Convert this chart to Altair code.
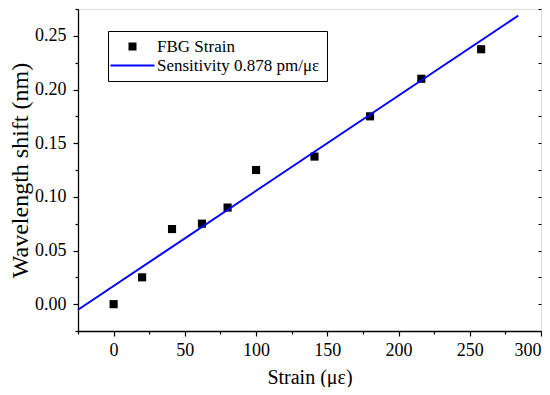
import altair as alt
import pandas as pd

strain = [0, 20, 41, 62, 80, 100, 141, 180, 216, 258]
shift = [0.0, 0.025, 0.070, 0.075, 0.090, 0.125, 0.1375, 0.175, 0.210, 0.2375]
fit_x = [-25, 284]
fit_y = [-0.0052, 0.2688]
series = ["FBG Strain", "Sensitivity 0.878 pm/\u03bc\u03b5"]
x_major = [0, 50, 100, 150, 200, 250, 300]
x_minor = [-25, 25, 75, 125, 175, 225, 275]
y_major = [0.0, 0.05, 0.10, 0.15, 0.20, 0.25]
y_minor = [-0.025, 0.025, 0.075, 0.125, 0.175, 0.225, 0.275]

pts = pd.DataFrame({"x": strain, "y": shift, "s": series[0]})
fit = pd.DataFrame({"x": fit_x, "y": fit_y, "s": series[1]})

FONT = "Liberation Serif"
xs = alt.Scale(domain=[-25, 300], nice=False, zero=False)
ys = alt.Scale(domain=[-0.025, 0.275], nice=False, zero=False)
color = alt.Color("s:N", scale=alt.Scale(domain=series, range=["#000000", "#0000ff"]),
                  legend=alt.Legend(title=None, orient="none", legendX=30, legendY=22,
                                    strokeColor="#000000", fillColor="#ffffff", padding=7,
                                    labelFont=FONT, labelFontSize=17, labelColor="#000000",
                                    labelLimit=400,
                                    symbolSize=64, symbolOffset=9, labelOffset=16, rowPadding=1,
                                    symbolStrokeWidth=0))
shape = alt.Shape("s:N", scale=alt.Scale(domain=series,
                                         range=["square", "M-5.5,-0.25H5.5V0.25H-5.5Z"]))

common_ax = dict(domainColor="#000000", tickColor="#000000", labelColor="#000000",
                 titleColor="#000000", labelFont=FONT, titleFont=FONT,
                 domainWidth=1.3, tickWidth=1.2)

points = alt.Chart(pts).mark_point(filled=True, size=66, opacity=1).encode(
    x=alt.X("x:Q", scale=xs, axis=alt.Axis(values=x_major, tickSize=5, labelFontSize=18,
                                           title="Strain (\u03bc\u03b5)", titleFontSize=20,
                                           titleFontWeight="normal", labelPadding=5,
                                           titlePadding=8, grid=False, orient="bottom",
                                           **common_ax)),
    y=alt.Y("y:Q", scale=ys, axis=alt.Axis(values=y_major, format=".2f", tickSize=5,
                                           labelFontSize=18, title="Wavelength shift (nm)",
                                           titleFontSize=24, titleFontWeight="normal",
                                           labelPadding=7, titlePadding=2, grid=False,
                                           orient="left", **common_ax)),
    color=color,
    shape=shape,
)

line = alt.Chart(fit).mark_line(strokeWidth=2, color="#0000ff").encode(
    x=alt.X("x:Q", scale=xs, axis=alt.Axis(values=x_minor, tickSize=3, labels=False,
                                           title=None, grid=False, domain=False,
                                           orient="bottom", **common_ax)),
    y=alt.Y("y:Q", scale=ys, axis=alt.Axis(values=y_minor, tickSize=3, labels=False,
                                           title=None, grid=False, domain=False,
                                           orient="left", **common_ax)),
    color=alt.Color("s:N", scale=alt.Scale(domain=series, range=["#000000", "#0000ff"]),
                    legend=None),
)

right = alt.Chart(pts).mark_point(opacity=0).encode(
    x=alt.X("x:Q", scale=xs, axis=None),
    y=alt.Y("y:Q", scale=ys, axis=alt.Axis(values=y_major + y_minor, tickSize=3,
                                           labels=False, title=None, grid=False,
                                           domain=False, orient="right", offset=-3,
                                           tickColor="#000000", tickWidth=1)),
)

chart = alt.layer(points, line, right).resolve_axis(x="independent", y="independent").properties(
    width=534, height=379,
    autosize=alt.AutoSizeParams(type="fit", contains="padding"),
    padding={"left": 0, "top": 0, "right": 0, "bottom": 0},
).configure_view(stroke="#000000", strokeWidth=1.5).configure(background="#ffffff", font=FONT)

chart.save("out.html", embed_options={"renderer": "svg", "actions": False})
